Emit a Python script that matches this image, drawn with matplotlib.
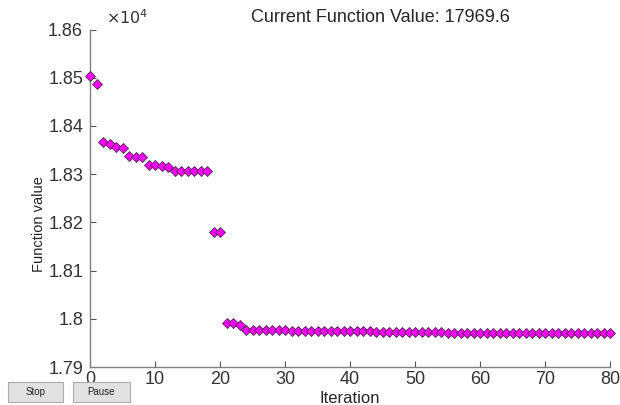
import numpy as np
import matplotlib
matplotlib.use("Agg")
import matplotlib.pyplot as plt
from matplotlib.patches import Rectangle
from matplotlib.ticker import FuncFormatter

plt.rcParams['font.family'] = ['Liberation Sans', 'DejaVu Sans']

# function value at each iteration
iterations = list(range(0, 81))
fvals = [18503, 18486, 18367, 18362, 18356, 18355, 18338, 18336, 18336, 18320,
         18319, 18316, 18314, 18306, 18306, 18306, 18306, 18306, 18306, 18181,
         18181, 17992, 17991, 17988, 17977, 17977, 17977, 17977, 17977, 17976,
         17976, 17975, 17975, 17975, 17975, 17975, 17975, 17974, 17974, 17974,
         17974, 17974, 17974, 17974, 17973, 17973, 17973, 17973, 17973, 17973,
         17973, 17972, 17972, 17972, 17972, 17971, 17971, 17971, 17971, 17970,
         17970, 17970, 17970, 17970, 17970, 17970, 17970, 17970, 17970, 17970,
         17970, 17970, 17970, 17970, 17970, 17970, 17970, 17970, 17970, 17970,
         17969.6]
title = "Current Function Value: 17969.6"
yticks = [17900, 18000, 18100, 18200, 18300, 18400, 18500, 18600]
xticks = [0, 10, 20, 30, 40, 50, 60, 70, 80]

fig = plt.figure(figsize=(6.2, 4.05), dpi=100)
ax = fig.add_axes([90/620, 1-367/405, 520/620, (367-29.5)/405])

ax.plot(iterations, fvals, linestyle='none', marker='D', markersize=5.2,
        markerfacecolor='#ff00ff', markeredgecolor='#4a2a4a', markeredgewidth=0.6,
        clip_on=False, zorder=3)

ax.set_xlim(0, 80)
ax.set_ylim(17900, 18600)
ax.set_xticks(xticks)
ax.set_yticks(yticks)
ax.yaxis.set_major_formatter(FuncFormatter(lambda v, p: '%g' % round(v / 1e4, 4)))

for s in ['top', 'right']:
    ax.spines[s].set_visible(False)
for s in ['left', 'bottom']:
    ax.spines[s].set_color('#808080')
    ax.spines[s].set_linewidth(1.0)
ax.tick_params(direction='in', length=4, color='#555555', labelsize=13,
               labelcolor='#333333', width=0.8)
ax.tick_params(axis='y', pad=5)
ax.tick_params(axis='x', pad=3)

ax.set_xlabel('Iteration', fontsize=12, color='#262626', labelpad=2)
ax.set_ylabel('Function value', fontsize=10.5, color='#262626')
ax.yaxis.set_label_coords(-0.085, 0.424)

fig.text(380/620, 1-17/405, title, ha='center', va='center', fontsize=13, color='#262626')
fig.text(106/620, 1-18/405, r'$\times10^4$', ha='left', va='center', fontsize=11.5, color='#333333')

# Stop / Pause buttons
for x0, w, label in [(8, 55, 'Stop'), (73, 57, 'Pause')]:
    fig.patches.append(Rectangle((x0/620, 1-402/405), w/620, 20/405,
                                 transform=fig.transFigure, facecolor='#e1e1e1',
                                 edgecolor='#adadad', linewidth=0.8, zorder=5))
    fig.text((x0 + w/2)/620, 1-392/405, label, ha='center', va='center',
             fontsize=7, color='#222222', zorder=6)

fig.savefig('out.png', dpi=100)
